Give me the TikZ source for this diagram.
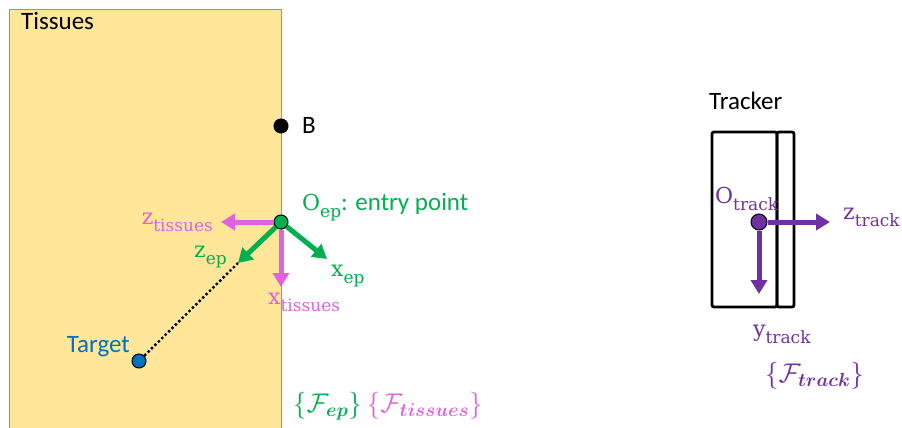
\RequirePackage{fix-cm}
\documentclass[tikz,border=0pt]{standalone}
\usepackage{fontspec}
\usepackage{amsmath,bm}
\newfontfamily\calfont{Carlito}
\newfontfamily\serfont{DejaVu Serif}
\usetikzlibrary{arrows.meta}
\definecolor{tissuefill}{HTML}{FFE699}
\definecolor{tissueedge}{HTML}{8497B0}
\definecolor{epgreen}{HTML}{00B050}
\definecolor{tispink}{HTML}{DF63DF}
\definecolor{trackpurple}{HTML}{7030A0}
\definecolor{targetblue}{HTML}{0070C0}
% axis name with subscript
\newcommand{\axl}[2]{#1\raisebox{-0.32em}{\fontsize{17}{19}\selectfont #2}}
\tikzset{
  pointdot/.style={circle, draw=black, line width=1pt, minimum size=14pt, inner sep=0pt},
  axis/.style={line width=5pt, -{Triangle[length=14pt,width=16pt]}},
  lbl/.style={inner sep=0pt, font=\serfont\fontsize{22}{26}\selectfont},
  framelbl/.style={inner sep=0pt, font=\fontsize{27}{30}\selectfont},
  txt/.style={inner sep=0pt, font=\calfont\fontsize{25}{29}\selectfont},
  trackbox/.style={draw=black, line width=2.8pt, rounded corners=2pt}
}
\begin{document}
\begin{tikzpicture}[x=1pt,y=-1pt]
\useasboundingbox (0,0) rectangle (902,428);
% tissues block
\filldraw[fill=tissuefill, draw=tissueedge, line width=0.8pt] (9,9) rectangle (281,440);
\node[txt, anchor=base west] (tislbl) at (21,30) {Tissues};

% points
\node[pointdot, fill=black] (b) at (281,126) {};
\node[txt, anchor=base west] (blbl) at (302,133) {B};
\node[pointdot, fill=targetblue] (tgt) at (139,361) {};
\node[txt, anchor=base east, text=targetblue] (tgtlbl) at (130,352) {Target};
\node[pointdot, fill=epgreen] (oep) at (281,222) {};

% axis ends
\coordinate (ztis) at (221,222);
\coordinate (xtis) at (281,287);
\coordinate (zep) at (238,263);
\coordinate (xep) at (327,259);

\draw[black, line width=2.4pt, dash pattern=on 2.4pt off 2.4pt] (tgt) -- (zep);
\draw[axis, tispink] (oep) -- (ztis);
\draw[axis, tispink] (oep) -- (xtis);
\draw[axis, epgreen] (oep) -- (zep);
\draw[axis, epgreen] (oep) -- (xep);

\node[lbl, anchor=base west, text=epgreen] (oeplbl) at (302,210) {\axl{O}{ep}{\calfont\fontsize{25}{29}\selectfont: entry point}};
\node[lbl, anchor=base east, text=tispink] (ztislbl) at (213,224) {\axl{z}{tissues}};
\node[lbl, anchor=base west, text=tispink] (xtislbl) at (268,304) {\axl{x}{tissues}};
\node[lbl, anchor=base west, text=epgreen] (zeplbl) at (194,257) {\axl{z}{ep}};
\node[lbl, anchor=base west, text=epgreen] (xeplbl) at (331,276) {\axl{x}{ep}};
\node[framelbl, anchor=base west, text=epgreen] (fep) at (293,412) {$\{\mathcal{F}_{\boldsymbol{ep}}\}$};
\node[framelbl, anchor=base west, text=tispink] (ftis) at (fep.base east) {$\,\{\mathcal{F}_{\boldsymbol{tissues}}\}$};

% tracker
\node[txt, anchor=base west] (trklbl) at (709,110) {Tracker};
\draw[trackbox] (712,132) rectangle (777,307);
\draw[trackbox] (777,132) rectangle (794,307);
\node[pointdot, fill=trackpurple, minimum size=16pt] (otrk) at (759,222) {};
\coordinate (ztrk) at (830,222);
\coordinate (ytrk) at (759,294);
\draw[axis, trackpurple] (otrk) -- (ztrk);
\draw[axis, trackpurple] (otrk) -- (ytrk);
\node[lbl, anchor=base west, text=trackpurple] (otrklbl) at (715,203) {\axl{O}{track}};
\node[lbl, anchor=base west, text=trackpurple] (ztrklbl) at (843,219) {\axl{z}{track}};
\node[lbl, anchor=base west, text=trackpurple] (ytrklbl) at (753,336) {\axl{y}{track}};
\node[framelbl, anchor=base west, text=trackpurple] (ftrk) at (765,382) {$\{\mathcal{F}_{\boldsymbol{track}}\}$};
\end{tikzpicture}
\end{document}
